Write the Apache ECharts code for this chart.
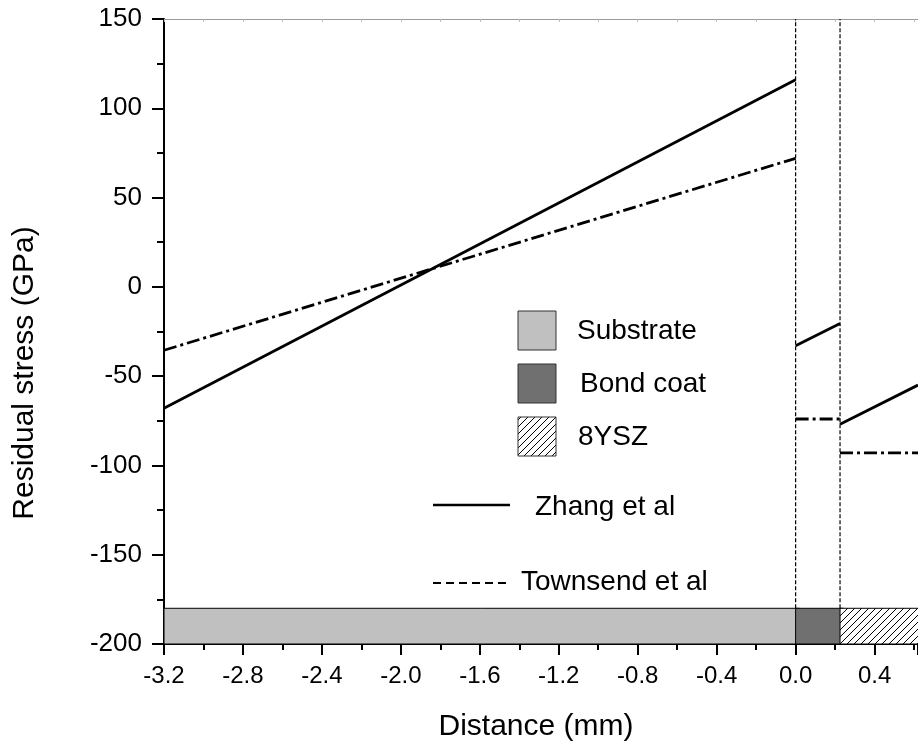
<!DOCTYPE html>
<html>
<head>
<meta charset="utf-8">
<script src="https://cdn.jsdelivr.net/npm/echarts@6/dist/echarts.min.js"></script>
<style>
  html, body { margin: 0; padding: 0; background: #fff; }
  #chart { width: 918px; height: 748px; }
</style>
</head>
<body>
<div id="chart"></div>
<script>
// layer boundaries along the distance axis (mm)
var layerNames = ["Substrate", "Bond coat", "8YSZ"];
var layerX = [[-3.2, 0], [0, 0.225], [0.225, 0.62]];
var layerBand = [-200, -180];

// stress at the two ends of each layer (GPa)
var zhangY = [[-68, 116], [-33, -20.5], [-77, -55]];
var townsendY = [[-35.5, 72], [-74, -74], [-93, -93]];

// interface markers
var interfaceX = [0, 0.225];

// visible axis range (figure is cut at the right edge)
var xMin = -3.2, xMax = 0.62;

var FONT = "Liberation Sans, Arial, sans-serif";

// 斜线填充
function makeHatch() {
  var c = document.createElement("canvas");
  c.width = 7;
  c.height = 7;
  var ctx = c.getContext("2d");
  ctx.fillStyle = "#fff";
  ctx.fillRect(0, 0, 7, 7);
  ctx.strokeStyle = "#000";
  ctx.lineWidth = 1;
  ctx.beginPath();
  ctx.moveTo(0, 7); ctx.lineTo(7, 0);
  ctx.moveTo(-1, 1); ctx.lineTo(1, -1);
  ctx.moveTo(6, 8); ctx.lineTo(8, 6);
  ctx.stroke();
  return c;
}
var hatch = { image: makeHatch(), repeat: "repeat" };
var layerFills = ["#c0c0c0", "#707070", hatch];

var chart = echarts.init(document.getElementById("chart"));

var series = [];

// layer bars along the bottom
series.push({
  type: "custom",
  silent: true,
  z: 5,
  data: layerX.map(function (r) { return [r[0], r[1], layerBand[0], layerBand[1]]; }),
  renderItem: function (params, api) {
    var a = api.coord([api.value(0), api.value(3)]);
    var b = api.coord([api.value(1), api.value(2)]);
    return {
      type: "rect",
      shape: { x: a[0], y: a[1], width: b[0] - a[0] + 4, height: b[1] - a[1] },
      style: { fill: layerFills[params.dataIndex], stroke: "#000", lineWidth: 1 },
    };
  },
});

// dashed interface lines
interfaceX.forEach(function (x) {
  series.push({
    type: "line",
    silent: true,
    symbol: "none",
    data: [[x, layerBand[1]], [x, 150]],
    lineStyle: { color: "#000", width: 1.2, type: [4, 2] },
  });
});

// Zhang et al (solid) and Townsend et al (dash-dot)
layerX.forEach(function (r, i) {
  series.push({
    name: "Zhang et al",
    type: "line",
    silent: true,
    symbol: "none",
    z: 3,
    data: [[r[0], zhangY[i][0]], [r[1], zhangY[i][1]]],
    lineStyle: { color: "#000", width: 2.8 },
  });
  series.push({
    name: "Townsend et al",
    type: "line",
    silent: true,
    symbol: "none",
    z: 3,
    data: [[r[0], townsendY[i][0]], [r[1], townsendY[i][1]]],
    lineStyle: { color: "#000", width: 2.8, type: [13, 4, 3, 4] },
  });
});

var option = {
  animation: false,
  backgroundColor: "#fff",
  grid: { left: 164, top: 19, right: 0, bottom: 104, outerBoundsMode: "none" },
  xAxis: [
    {
      type: "value",
      min: xMin,
      max: xMax,
      interval: 0.4,
      position: "bottom",
      axisLine: { onZero: false, lineStyle: { color: "#000", width: 2 } },
      axisTick: { inside: false, length: 11, lineStyle: { color: "#000", width: 2 } },
      minorTick: { show: true, splitNumber: 2, length: 6, lineStyle: { color: "#000", width: 2 } },
      axisLabel: {
        margin: 20,
        color: "#000",
        fontSize: 24,
        fontFamily: FONT,
        showMaxLabel: false,
        formatter: function (v) { return v.toFixed(1); },
      },
      splitLine: { show: false },
    },
    {
      type: "value",
      min: xMin,
      max: xMax,
      interval: 0.4,
      position: "top",
      axisLine: { onZero: false, lineStyle: { color: "#999", width: 1 } },
      axisTick: { inside: true, length: 3, lineStyle: { color: "#bbb" } },
      minorTick: { show: true, splitNumber: 2, length: 3, lineStyle: { color: "#bbb" } },
      axisLabel: { show: false },
      splitLine: { show: false },
    },
  ],
  yAxis: {
    type: "value",
    min: -200,
    max: 150,
    interval: 50,
    axisLine: { show: true, onZero: false, lineStyle: { color: "#000", width: 2 } },
    axisTick: { show: true, length: 12, lineStyle: { color: "#000", width: 2 } },
    minorTick: { show: true, splitNumber: 2, length: 7, lineStyle: { color: "#000", width: 2 } },
    axisLabel: { margin: 22, color: "#000", fontSize: 26, fontFamily: FONT },
    splitLine: { show: false },
  },
  series: series,
  graphic: [
    // axis titles
    {
      type: "text",
      x: 25,
      y: 373,
      rotation: Math.PI / 2,
      style: {
        text: "Residual stress (GPa)",
        fontSize: 30,
        fontFamily: FONT,
        fill: "#000",
        align: "center",
        verticalAlign: "middle",
      },
    },
    {
      type: "text",
      x: 536,
      y: 727,
      style: {
        text: "Distance (mm)",
        fontSize: 30,
        fontFamily: FONT,
        fill: "#000",
        align: "center",
        verticalAlign: "middle",
      },
    },
    // layer legend
    { type: "rect", shape: { x: 518, y: 311, width: 38, height: 39 }, style: { fill: layerFills[0], stroke: "#333", lineWidth: 1 } },
    { type: "rect", shape: { x: 518, y: 364, width: 38, height: 39 }, style: { fill: layerFills[1], stroke: "#333", lineWidth: 1 } },
    { type: "rect", shape: { x: 518, y: 417, width: 38, height: 39 }, style: { fill: hatch, stroke: "#333", lineWidth: 1 } },
    { type: "text", x: 577, y: 331, style: { text: layerNames[0], fontSize: 28, fontFamily: FONT, fill: "#000", verticalAlign: "middle" } },
    { type: "text", x: 580, y: 384, style: { text: layerNames[1], fontSize: 28, fontFamily: FONT, fill: "#000", verticalAlign: "middle" } },
    { type: "text", x: 578, y: 437, style: { text: layerNames[2], fontSize: 28, fontFamily: FONT, fill: "#000", verticalAlign: "middle" } },
    // line legend
    { type: "line", shape: { x1: 433, y1: 505, x2: 510, y2: 505 }, style: { stroke: "#000", lineWidth: 2.5 } },
    { type: "text", x: 535, y: 507, style: { text: "Zhang et al", fontSize: 28, fontFamily: FONT, fill: "#000", verticalAlign: "middle" } },
    { type: "line", shape: { x1: 433, y1: 583, x2: 510, y2: 583 }, style: { stroke: "#000", lineWidth: 2, lineDash: [8, 5] } },
    { type: "text", x: 521, y: 582, style: { text: "Townsend et al", fontSize: 28, fontFamily: FONT, fill: "#000", verticalAlign: "middle" } },
  ],
};

chart.setOption(option);
</script>
</body>
</html>
